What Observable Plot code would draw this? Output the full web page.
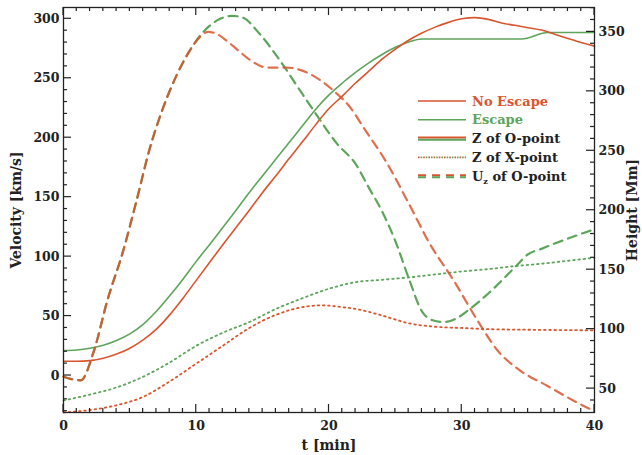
<!DOCTYPE html>
<html><head><meta charset="utf-8">
<script src="https://cdn.jsdelivr.net/npm/d3@7"></script>
<script src="https://cdn.jsdelivr.net/npm/@observablehq/plot@0.6"></script>
<style>
html,body{margin:0;padding:0;background:#fff;}
#wrap{position:relative;width:642px;height:455px;background:#fff;}
#wrap > svg{position:absolute;left:0;top:0;}
#wrap [aria-label="x-axis label"], #wrap [aria-label="y-axis label"]{font-size:14px;}
</style></head><body><div id="wrap"></div>
<script>
// Height [Mm] (right axis) = velocity-axis value + OFF
const OFF = 61;

const RED = "#d9552e";
const GREEN = "#5da55a";

// Z of O-point [Mm]
const escZO_t = [0,1,2,3,4,5,6,7,8,9,10,11,12,13,14,15,16,17,18,19,20,21,22,23,24,25,26,27,28,34.5,36.5,40];
const escZO_h = [82,82.5,84,86.5,90.5,96,104,115,128,142,157,171,185.5,200,215,229,243,257,271,285,297,307,316,324,331,337,341.5,344,344,344,349.5,349.5];
const noZO_t = d3.range(0, 41, 1);
const noZO_h = [73,73,73.5,75.5,79,84,91,100,112,126,141,156,171,185.5,200,215,229,243.5,257.5,272,285.5,296,307,317,327,335.5,343,349,354,358,361,362,360.5,357.5,355.5,353.5,351.5,348,344.5,341,338];

// Z of X-point [Mm]
const escZX_t = [0,2,4,6,8,10,12,14,16,18,20,22,24,26,28,30,32,34,36,38,40];
const escZX_h = [40,45,51,60,72,86,97,106,117,126,134,139.5,141.5,143.5,146,148.5,150.5,153,155,157.5,160];
const noZX_t = [0,2,4,6,8,10,12,14,16,18,19.5,21,22,24,26,28,30,32,35,40];
const noZX_h = [30,32,36,43,56,71,86,101,112,118.5,120,118.5,117,111.5,105,102,101,100,99.5,99];

// U_z of O-point [km/s]
const noUz_t = [0,0.6,1.3,2.3,3.3,4.5,5.5,6.5,7.5,8.5,9.5,10.3,10.9,11.6,12.3,13.2,14.1,15.3,16.8,18.3,19.4,20.5,21.6,22.6,24.4,25.9,27.6,29.4,31.2,32.7,34.4,36.4,38.4,40];
const noUz_v = [-1,-3,-4,21,63,105,147,191,225,252,273,285,289,287,281.5,273,265,259,259,255,248,238,225.5,208.6,178,147,110.7,79.8,46,21,4.2,-8.4,-21,-30];
const escUz_t = [0,0.6,1.3,2.3,3.3,4.5,5.5,6.5,7.5,8.5,9.5,10.3,11,11.8,12.7,13.5,14.8,16.3,17.8,18.85,20.6,22,23,24,25,26,27,27.8,28.6,29.5,30.5,32,34,35,36,37,38.7,40];
const escUz_v = [-1,-3,-4,21,63,105,147,191,225,252,273,286,294,300,302.5,301,287,265,240,222.7,195,178,158,138,113,82,54,46.5,45,47.5,55,69,91,102,106.5,111,118,123];

// axis ticks
const tMajor = d3.range(0, 41, 10);
const tMinor = d3.range(1, 40, 1).filter(t => t % 10 !== 0);
const vMajor = d3.range(0, 301, 50);
const vMinor = d3.range(-30, 310, 10).filter(v => v % 50 !== 0);
const hMajor = d3.range(50, 351, 50);
const hMinor = d3.range(40, 371, 10).filter(h => h % 50 !== 0);

const toRows = (ts, vs) => ts.map((t, i) => ({t, v: vs[i]}));
const toRowsH = (ts, hs) => ts.map((t, i) => ({t, v: hs[i] - OFF}));

const W = 642, H = 455;
const xDom = [0, 40], yDom = [-31.1, 309.5];
const MAJ = 8, MIN = 4;
const tickColor = "#222";

const lineOpts = (stroke, extra) => ({x: "t", y: "v", stroke, curve: "monotone-x", ...extra});

const chart = Plot.plot({
  width: W, height: H,
  marginLeft: 63, marginRight: 48, marginTop: 7, marginBottom: 43,
  x: {domain: xDom},
  y: {domain: yDom},
  style: {fontFamily: "DejaVu Serif", fontWeight: "bold", fontSize: "12.5px", background: "white", color: "#222"},
  marks: [
    // dotted: Z of X-point
    Plot.line(toRowsH(escZX_t, escZX_h), lineOpts(GREEN, {strokeWidth: 1.8, strokeDasharray: "1.6,3.6"})),
    Plot.line(toRowsH(noZX_t, noZX_h), lineOpts(RED, {strokeWidth: 1.8, strokeDasharray: "1.6,3.6"})),
    // solid: Z of O-point
    Plot.line(toRowsH(escZO_t, escZO_h), lineOpts(GREEN, {strokeWidth: 1.6})),
    Plot.line(toRowsH(noZO_t, noZO_h), lineOpts(RED, {strokeWidth: 1.6})),
    // dashed: Uz of O-point
    Plot.line(toRows(escUz_t, escUz_v), lineOpts(GREEN, {strokeWidth: 2.2, strokeDasharray: "9,6"})),
    Plot.line(toRows(noUz_t, noUz_v), lineOpts(RED, {strokeWidth: 2.2, strokeDasharray: "9,6", strokeOpacity: 0.85})),
    Plot.frame({stroke: "#222", strokeWidth: 1.3}),
    // tick labels and axis titles
    Plot.axisX(tMajor, {anchor: "bottom", tickSize: 0, tickPadding: 9, label: "t [min]", labelAnchor: "center", labelOffset: 37, labelArrow: "none"}),
    Plot.axisY(vMajor, {anchor: "left", tickSize: 0, tickPadding: 4, label: "Velocity [km/s]", labelAnchor: "center", labelOffset: 52, labelArrow: "none"}),
    Plot.axisY(hMajor.map(h => h - OFF), {anchor: "right", tickSize: 0, tickPadding: 4, tickFormat: v => String(Math.round(v + OFF)), label: "Height [Mm]", labelAnchor: "center", labelOffset: 42, labelArrow: "none"})
  ]
});
document.getElementById("wrap").appendChild(chart);

// overlay: inward tick marks placed with the chart's own scales, and the legend
const sx = chart.scale("x"), sy = chart.scale("y");
const [fx0, fx1] = sx.range;          // frame left / right
const [fyB, fyT] = sy.range;          // frame bottom / top
const ov = d3.select("#wrap").append("svg").attr("width", W).attr("height", H)
  .style("pointer-events", "none")
  .style("font-family", "DejaVu Serif").style("font-weight", "bold").style("font-size", "13px");
const tk = ov.append("g").attr("stroke", tickColor).attr("stroke-width", 1.2);
const vt = (vals, len) => vals.forEach(t => {
  const x = sx.apply(t);
  tk.append("line").attr("x1", x).attr("x2", x).attr("y1", fyB).attr("y2", fyB - len);
  tk.append("line").attr("x1", x).attr("x2", x).attr("y1", fyT).attr("y2", fyT + len);
});
const ht = (vals, len, side) => vals.forEach(v => {
  const y = sy.apply(v);
  const x0 = side === "left" ? fx0 : fx1, x1 = side === "left" ? fx0 + len : fx1 - len;
  tk.append("line").attr("x1", x0).attr("x2", x1).attr("y1", y).attr("y2", y);
});
vt(tMajor, MAJ); vt(tMinor, MIN);
ht(vMajor, MAJ, "left"); ht(vMinor, MIN, "left");
ht(hMajor.map(h => h - OFF), MAJ, "right"); ht(hMinor.map(h => h - OFF), MIN, "right");

// legend (inside the plot area, upper right)
const legendLabels = ["No Escape", "Escape", "Z of O-point", "Z of X-point", "of O-point"];
const rowY = i => 101 + i * 18.8;
const lx0 = 418, lx1 = 466, ltx = 472;
const seg = (y, color, w, dash, dx = 0) => ov.append("line")
  .attr("x1", lx0 + dx).attr("x2", lx1).attr("y1", y).attr("y2", y)
  .attr("stroke", color).attr("stroke-width", w).attr("stroke-dasharray", dash || null);
seg(rowY(0), RED, 1.5);
seg(rowY(1), GREEN, 1.5);
seg(rowY(2) - 1.1, RED, 2);
seg(rowY(2) + 1.1, GREEN, 2);
seg(rowY(3), RED, 1.8, "1.6,3.6");
seg(rowY(3), GREEN, 1.8, "1.6,3.6", 2.6);
seg(rowY(4) - 1, RED, 2, "8,6");
seg(rowY(4) + 1, GREEN, 2, "8,6");
const fills = [RED, GREEN, "#222", "#222", "#222"];
legendLabels.forEach((s, i) => {
  const t = ov.append("text").attr("x", ltx).attr("y", rowY(i) + 4.5).attr("fill", fills[i]);
  if (i === 4) {
    t.append("tspan").text("U");
    t.append("tspan").attr("font-size", "8px").attr("dy", 3).text("z");
    t.append("tspan").attr("dy", -3).text(" " + s);
  } else t.text(s);
});
</script></body></html>
